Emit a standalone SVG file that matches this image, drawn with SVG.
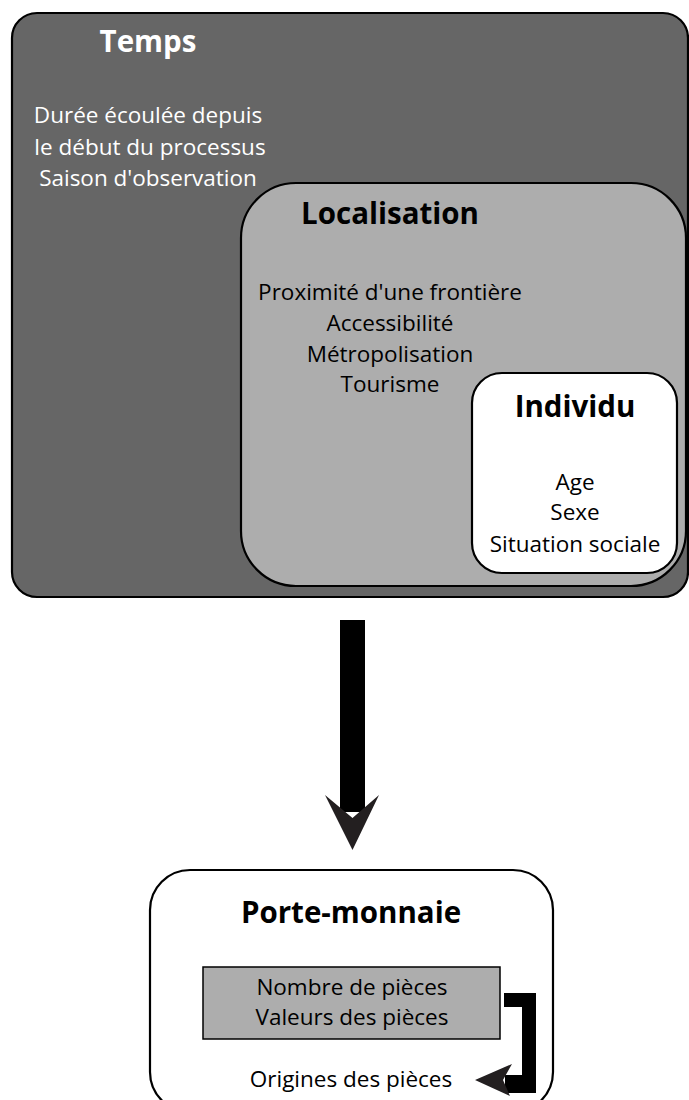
<svg xmlns="http://www.w3.org/2000/svg" width="689" height="1100" viewBox="0 0 689 1100">
<style>
.t{font-family:"Open Sans","Noto Sans","Liberation Sans",sans-serif;font-size:22.5px;text-anchor:middle}
.h{font-family:"Open Sans","Noto Sans","Liberation Sans",sans-serif;font-size:29.5px;font-weight:bold;text-anchor:middle}
.w{fill:#ffffff}
.k{fill:#000000}
.box{stroke:#000;stroke-width:2.2}
</style>
<rect width="689" height="1100" fill="#ffffff"/>
<g id="temps">
<rect class="box" x="12" y="13" width="676" height="584" rx="25" fill="#666666"/>
<text class="h w" x="148" y="52">Temps</text>
<text class="t w" x="148" y="123">Durée écoulée depuis</text>
<text class="t w" x="150" y="155">le début du processus</text>
<text class="t w" x="148" y="186">Saison d'observation</text>
</g>
<g id="localisation">
<rect class="box" x="241" y="183" width="445" height="403" rx="55" fill="#adadad"/>
<text class="h k" x="390" y="224">Localisation</text>
<text class="t k" x="390" y="300">Proximité d'une frontière</text>
<text class="t k" x="390" y="331">Accessibilité</text>
<text class="t k" x="390" y="362">Métropolisation</text>
<text class="t k" x="390" y="392">Tourisme</text>
</g>
<g id="individu">
<rect class="box" x="472" y="373" width="205" height="200" rx="30" fill="#ffffff"/>
<text class="h k" x="575" y="417">Individu</text>
<text class="t k" x="575" y="490">Age</text>
<text class="t k" x="575" y="520">Sexe</text>
<text class="t k" x="575" y="552">Situation sociale</text>
</g>
<g id="porte-monnaie">
<rect class="box" x="150" y="870" width="403" height="242" rx="40" fill="#ffffff"/>
<text class="h k" x="351" y="923">Porte-monnaie</text>
<rect x="203" y="967" width="297" height="72" fill="#adadad" stroke="#000" stroke-width="1.5"/>
<text class="t k" x="352" y="995">Nombre de pièces</text>
<text class="t k" x="352" y="1025">Valeurs des pièces</text>
<text class="t k" x="351" y="1087">Origines des pièces</text>
</g>
<g id="connectors">
<rect x="340" y="620" width="25" height="192" fill="#000"/>
<polygon points="325,795 352.5,818 379,795 352.5,850" fill="#231f20"/>
<polygon points="504,993 536,993 536,1093 505,1093 505,1075 522,1075 522,1007 504,1007" fill="#000"/>
<polygon points="475,1080 512,1064 503,1080 510,1096" fill="#231f20"/>
</g>
</svg>
